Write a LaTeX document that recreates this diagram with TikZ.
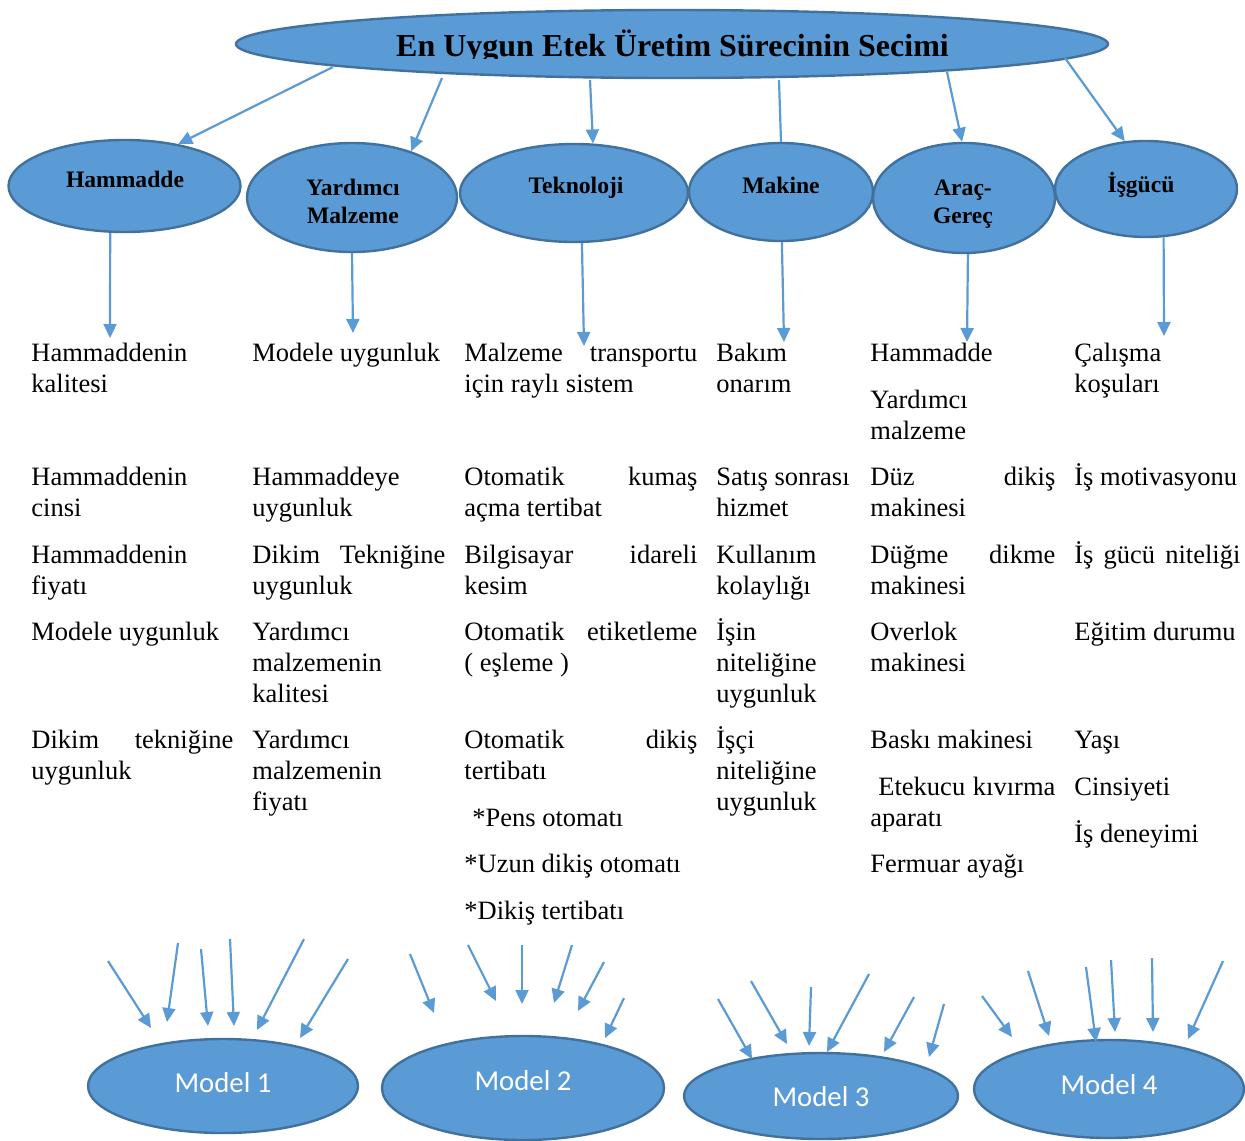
\documentclass[tikz,border=0pt]{standalone}
\usepackage{fontspec}
\setmainfont{Liberation Serif}
\newfontfamily\calibfont{Carlito}
\usetikzlibrary{shapes.geometric,arrows.meta}
\definecolor{ebl}{HTML}{5B9BD5}
\definecolor{edg}{HTML}{41719C}
\newcommand\jl[2]{\hbox to #1{#2}}
\begin{document}
\begin{tikzpicture}[x=0.5pt,y=-0.5pt,
 ell/.style={ellipse,draw=edg,line width=1.2pt,fill=ebl,inner sep=0pt},
 arr/.style={draw=ebl,line width=1.1pt,-{Triangle[length=7pt,width=6.5pt]}},
 plainln/.style={draw=ebl,line width=1.1pt},
 lab/.style={font=\fontsize{11.8}{14}\selectfont\bfseries,inner sep=0pt,anchor=base,align=center},
 txt/.style={font=\fontsize{13.25}{15.5}\selectfont,align=left,anchor=base west,inner sep=0pt},
 mdl/.style={font=\calibfont\fontsize{14.4}{16}\selectfont,text=white,inner sep=0pt}]
\useasboundingbox (0,0) rectangle (1245,1140);

% top ellipse
\node[ell,minimum width=436pt,minimum height=34pt] (top) at (672,44) {};
\begin{scope}
\clip (236,0) rectangle (1108,58);
\node[font=\fontsize{16}{18}\selectfont\bfseries,anchor=base,inner sep=0pt] (title) at (672.5,56) {En Uygun Etek Üretim Sürecinin Secimi};
\end{scope}

% second level
\node[ell,minimum width=116pt,minimum height=46pt] (ham) at (124.5,186) {};
\node[ell,minimum width=105pt,minimum height=54.5pt] (yar) at (352,197.5) {};
\node[ell,minimum width=114pt,minimum height=49pt] (tek) at (574,193) {};
\node[ell,minimum width=92pt,minimum height=49pt] (mak) at (781,192) {};
\node[ell,minimum width=91pt,minimum height=55pt] (ara) at (964,198) {};
\node[ell,minimum width=91pt,minimum height=48pt] (isg) at (1146,189) {};

\node[lab] (lham) at (125,187) {Hammadde};
\node[lab] (lyar) at (353,223) {Yardımcı\\Malzeme};
\node[lab] (ltek) at (576,193) {Teknoloji};
\node[lab] (lmak) at (781,193) {Makine};
\node[lab] (lara) at (963,223) {Araç-\\Gereç};
\node[lab] (lisg) at (1141,192) {İşgücü};

% top arrows
\coordinate (s1) at (333,67);
\coordinate (s2) at (442,78);
\coordinate (s3) at (590,80);
\coordinate (s4) at (779,80);
\coordinate (s5) at (947,72);
\coordinate (s6) at (1065,58);
\draw[arr] (s1) -- (ham.38.7);
\draw[arr] (s2) -- (yar.38);
\draw[arr] (s3) -- (tek.69.6);
\draw[plainln] (s4) -- (mak.90);
\draw[arr] (s5) -- (ara.92);
\draw[arr] (s6) -- (isg.114.2);

% down arrows
\coordinate (d1) at (110,338);
\coordinate (d2) at (353,333);
\coordinate (d3) at (584,346);
\coordinate (d4) at (784,342);
\coordinate (d5) at (967,342);
\coordinate (d6) at (1164,336);
\draw[arr] (ham.-107.6) -- (d1);
\draw[arr] (yar.-90) -- (d2);
\draw[arr] (tek.-81.85) -- (d3);
\draw[arr] (mak.-89) -- (d4);
\draw[arr] (ara.-86.9) -- (d5);
\draw[arr] (isg.-70.2) -- (d6);

% column 1 (node base = last line)
\node[txt] (c1a) at (31,392) {Hammaddenin\\kalitesi};
\node[txt] (c1b) at (31,516) {Hammaddenin\\cinsi};
\node[txt] (c1c) at (31,594) {Hammaddenin\\fiyatı};
\node[txt] (c1d) at (31,640) {Modele uygunluk};
\node[txt] (c1e) at (31,779) {\jl{101pt}{Dikim\hfill tekniğine}\\uygunluk};
% column 2
\node[txt] (c2a) at (252,361) {Modele uygunluk};
\node[txt] (c2b) at (252,516) {Hammaddeye\\uygunluk};
\node[txt] (c2c) at (252,594) {\jl{96.5pt}{Dikim\hfill Tekniğine}\\uygunluk};
\node[txt] (c2d) at (252,702) {Yardımcı\\malzemenin\\kalitesi};
\node[txt] (c2e) at (252,810) {Yardımcı\\malzemenin\\fiyatı};
% column 3
\node[txt] (c3a) at (464,392) {\jl{116.5pt}{Malzeme\hfill transportu}\\için raylı sistem};
\node[txt] (c3b) at (464,516) {\jl{116.5pt}{Otomatik\hfill kumaş}\\açma tertibat};
\node[txt] (c3c) at (464,594) {\jl{116.5pt}{Bilgisayar\hfill idareli}\\kesim};
\node[txt] (c3d) at (464,671) {\jl{116.5pt}{Otomatik\hfill etiketleme}\\( eşleme )};
\node[txt] (c3e) at (464,779) {\jl{116.5pt}{Otomatik\hfill dikiş}\\tertibatı};
\node[txt] (c3f) at (472,826) {*Pens otomatı};
\node[txt] (c3g) at (464,872) {*Uzun dikiş otomatı};
\node[txt] (c3h) at (464,919) {*Dikiş tertibatı};
% column 4
\node[txt] (c4a) at (716,392) {Bakım\\onarım};
\node[txt] (c4b) at (716,516) {Satış sonrası\\hizmet};
\node[txt] (c4c) at (716,594) {Kullanım\\kolaylığı};
\node[txt] (c4d) at (716,702) {İşin\\niteliğine\\uygunluk};
\node[txt] (c4e) at (716,810) {İşçi\\niteliğine\\uygunluk};
% column 5
\node[txt] (c5a) at (870,361) {Hammadde};
\node[txt] (c5b) at (870,439) {Yardımcı\\malzeme};
\node[txt] (c5c) at (870,516) {\jl{92.5pt}{Düz\hfill dikiş}\\makinesi};
\node[txt] (c5d) at (870,594) {\jl{92.5pt}{Düğme\hfill dikme}\\makinesi};
\node[txt] (c5e) at (870,671) {Overlok\\makinesi};
\node[txt] (c5f) at (870,748) {Baskı makinesi};
\node[txt] (c5g) at (870,826) {\jl{92.5pt}{\hspace{4pt}Etekucu\hfill kıvırma}\\aparatı};
\node[txt] (c5h) at (870,872) {Fermuar ayağı};
% column 6
\node[txt] (c6a) at (1074,392) {Çalışma\\koşuları};
\node[txt] (c6b) at (1074,485) {İş motivasyonu};
\node[txt] (c6c) at (1074,563) {\jl{83pt}{İş\hfill gücü\hfill niteliği}};
\node[txt] (c6d) at (1074,640) {Eğitim durumu};
\node[txt] (c6e) at (1074,748) {Yaşı};
\node[txt] (c6f) at (1074,795) {Cinsiyeti};
\node[txt] (c6g) at (1074,842) {İş deneyimi};

% models
\node[ell,minimum width=135pt,minimum height=47pt] (m1) at (223,1086) {};
\node[ell,minimum width=141pt,minimum height=52pt] (m2) at (523,1088) {};
\node[ell,minimum width=137pt,minimum height=43pt] (m3) at (821,1096) {};
\node[ell,minimum width=135pt,minimum height=49pt] (m4) at (1109,1089) {};
\node[mdl] (t1) at (223,1083) {Model 1};
\node[mdl] (t2) at (523,1081) {Model 2};
\node[mdl] (t3) at (821,1097) {Model 3};
\node[mdl] (t4) at (1109,1085) {Model 4};

% arrows to models
\foreach \n/\ax/\ay/\bx/\by in {
 a1/108/961/151/1028, a2/178/943/167/1022, a3/201/949/208/1026, a4/230/939/234/1026, a5/304/939/257/1030, a6/348/959/300/1038,
 b1/410/954/434/1013, b2/468/945/496/1001, b3/522/945/522/1004, b4/572/945/554/1003, b5/604/962/578/1011, b6/624/998/605/1038,
 c1/718/999/752/1059, c2/751/981/787/1044, c3/811/987/809/1046, c4/869/974/827/1052, c5/914/997/884/1052, c6/944/1004/929/1057,
 e1/982/996/1012/1037, e2/1028/971/1049/1036, e3/1086/967/1096/1042, e4/1111/960/1115/1032, e5/1152/958/1153/1032, e6/1223/961/1188/1039}{
 \coordinate (\n s) at (\ax,\ay);
 \coordinate (\n e) at (\bx,\by);
 \draw[arr] (\n s) -- (\n e);
}
\end{tikzpicture}
\end{document}
